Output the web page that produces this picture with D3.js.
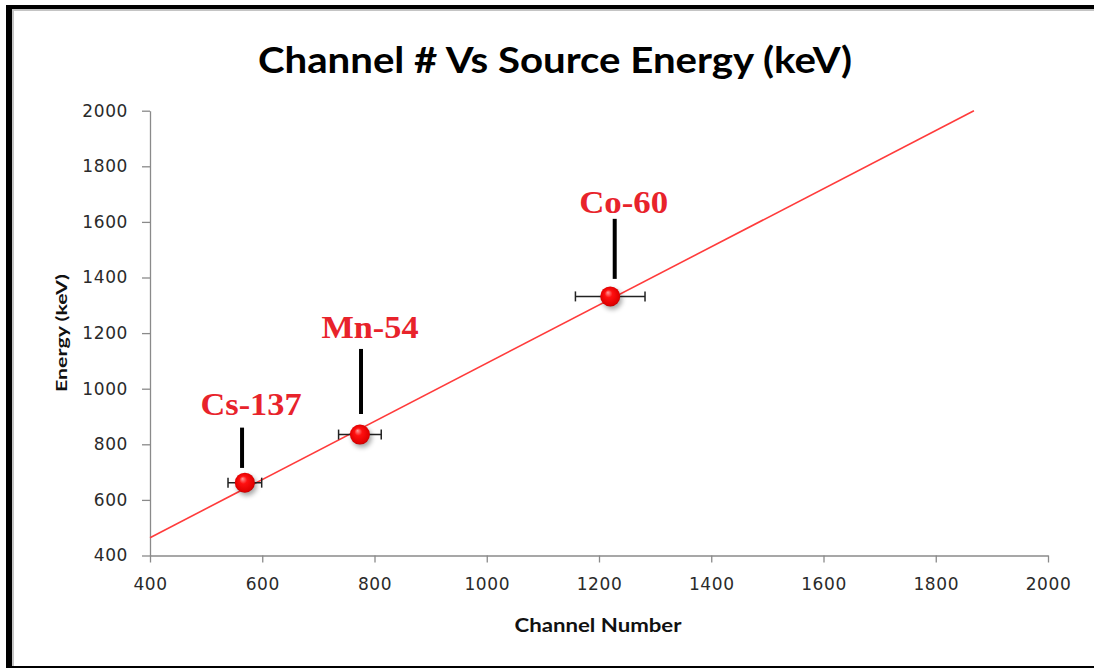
<!DOCTYPE html>
<html>
<head>
<meta charset="utf-8">
<script src="https://cdn.jsdelivr.net/npm/d3@7"></script>
<style>
  body { margin: 0; background: #fff; }
  svg { display: block; }
</style>
</head>
<body>
<svg id="canvas"></svg>
<script>
// sources (channel number vs known gamma energy)
const sources = ["Cs-137", "Mn-54", "Co-60"]
const channels = [569, 774, 1220]
const energies = [662, 835, 1332]
const channelErr = [30, 38, 62]
// label callouts (energy of label baseline, leader top, leader bottom)
const labelEnergy = [906, 1184, 1632]
const leaderTop = [860, 1143, 1611]
const leaderBottom = [715, 909, 1395]
const leaderChannel = [564, 776, 1228]
// linear trendline endpoints
const trendChannel = [400, 1868]
const trendEnergy = [464, 2000]
// axis ticks
const xTicks = [400, 600, 800, 1000, 1200, 1400, 1600, 1800, 2000]
const yTicks = [400, 600, 800, 1000, 1200, 1400, 1600, 1800, 2000]

const W = 1094, H = 668
const plot = {left: 150, right: 1048, top: 110.7, bottom: 555.5}

const svg = d3.select("#canvas").attr("width", W).attr("height", H)

// frame
svg.append("rect").attr("width", W).attr("height", H).attr("fill", "#fff")
svg.append("rect").attr("x", 6).attr("y", 5).attr("width", W - 6).attr("height", 4).attr("fill", "#000")
svg.append("rect").attr("x", 12).attr("y", 9).attr("width", W - 12).attr("height", 2).attr("fill", "#c4c4c4")
svg.append("rect").attr("x", 6).attr("y", 5).attr("width", 6).attr("height", H - 5).attr("fill", "#000")
svg.append("rect").attr("x", 12).attr("y", 9).attr("width", 2).attr("height", H - 9).attr("fill", "#c4c4c4")
svg.append("rect").attr("x", 6).attr("y", 666).attr("width", W - 6).attr("height", 2).attr("fill", "#000")

const defs = svg.append("defs")
const grad = defs.append("radialGradient").attr("id", "ball")
    .attr("cx", "50%").attr("cy", "50%").attr("r", "55%")
    .attr("fx", "38%").attr("fy", "30%")
grad.append("stop").attr("offset", "0%").attr("stop-color", "#ff9a9a")
grad.append("stop").attr("offset", "35%").attr("stop-color", "#ff1010")
grad.append("stop").attr("offset", "85%").attr("stop-color", "#e00000")
grad.append("stop").attr("offset", "100%").attr("stop-color", "#a00000")
const shadow = defs.append("filter").attr("id", "shadow")
    .attr("x", "-50%").attr("y", "-50%").attr("width", "200%").attr("height", "200%")
shadow.append("feGaussianBlur").attr("stdDeviation", 2.5)

const x = d3.scaleLinear().domain([400, 2000]).range([plot.left, plot.right])
const y = d3.scaleLinear().domain([400, 2000]).range([plot.bottom, plot.top])

// title
svg.append("text")
    .attr("x", 555).attr("y", 73)
    .attr("text-anchor", "middle")
    .attr("font-family", "Lato, sans-serif").attr("font-weight", "bold")
    .attr("font-size", 37)
    .attr("textLength", 594).attr("lengthAdjust", "spacingAndGlyphs")
    .attr("fill", "#000")
    .text("Channel # Vs Source Energy (keV)")

// axes
const axisColor = "#8a8a8a"
const xAxis = svg.append("g")
    .attr("transform", `translate(0,${plot.bottom})`)
    .call(d3.axisBottom(x).tickValues(xTicks).tickFormat(d3.format("d")).tickSize(7).tickSizeOuter(0).tickPadding(15))
const yAxis = svg.append("g")
    .attr("transform", `translate(${plot.left},0)`)
    .call(d3.axisLeft(y).tickValues(yTicks).tickFormat(d3.format("d")).tickSize(8).tickSizeOuter(0).tickPadding(14))
;[xAxis, yAxis].forEach(g => {
    g.select(".domain").attr("stroke", axisColor).attr("stroke-width", 1.3)
    g.selectAll(".tick line").attr("stroke", axisColor).attr("stroke-width", 1.3)
    g.selectAll(".tick text")
        .attr("font-family", "'DejaVu Sans', sans-serif")
        .attr("font-size", 17)
        .attr("letter-spacing", 0.6)
        .attr("fill", "#2a2a2a")
})

// axis titles
svg.append("text")
    .attr("x", 598).attr("y", 632)
    .attr("text-anchor", "middle")
    .attr("font-family", "Lato, sans-serif").attr("font-weight", "bold")
    .attr("font-size", 18)
    .attr("textLength", 167).attr("lengthAdjust", "spacingAndGlyphs")
    .attr("fill", "#111")
    .text("Channel Number")
svg.append("text")
    .attr("transform", "translate(67,333) rotate(-90)")
    .attr("text-anchor", "middle")
    .attr("font-family", "Lato, sans-serif").attr("font-weight", "bold")
    .attr("font-size", 15)
    .attr("textLength", 118).attr("lengthAdjust", "spacingAndGlyphs")
    .attr("fill", "#111")
    .text("Energy (keV)")

// trendline
svg.append("line")
    .attr("x1", x(trendChannel[0])).attr("y1", y(trendEnergy[0]))
    .attr("x2", x(trendChannel[1])).attr("y2", y(trendEnergy[1]))
    .attr("stroke", "#ff3b3b").attr("stroke-width", 1.6)

const data = sources.map((s, i) => ({
    name: s, ch: channels[i], e: energies[i], err: channelErr[i],
    lab: labelEnergy[i], top: leaderTop[i], bot: leaderBottom[i], lch: leaderChannel[i]
}))

// error bars
const eb = svg.selectAll(".err").data(data).enter().append("g").attr("class", "err")
    .attr("stroke", "#222").attr("stroke-width", 1.5)
eb.append("line")
    .attr("x1", d => x(d.ch - d.err)).attr("x2", d => x(d.ch + d.err))
    .attr("y1", d => y(d.e)).attr("y2", d => y(d.e))
eb.append("line")
    .attr("x1", d => x(d.ch - d.err)).attr("x2", d => x(d.ch - d.err))
    .attr("y1", d => y(d.e) - 5).attr("y2", d => y(d.e) + 5)
eb.append("line")
    .attr("x1", d => x(d.ch + d.err)).attr("x2", d => x(d.ch + d.err))
    .attr("y1", d => y(d.e) - 5).attr("y2", d => y(d.e) + 5)

// markers with soft shadow
svg.selectAll(".shadow").data(data).enter().append("circle")
    .attr("cx", d => x(d.ch) + 2).attr("cy", d => y(d.e) + 3)
    .attr("r", 10).attr("fill", "#000").attr("opacity", 0.35)
    .attr("filter", "url(#shadow)")
svg.selectAll(".pt").data(data).enter().append("circle")
    .attr("class", "pt")
    .attr("cx", d => x(d.ch)).attr("cy", d => y(d.e))
    .attr("r", 10).attr("fill", "url(#ball)")

// leader lines
svg.selectAll(".leader").data(data).enter().append("line")
    .attr("x1", d => x(d.lch)).attr("x2", d => x(d.lch))
    .attr("y1", d => y(d.top)).attr("y2", d => y(d.bot))
    .attr("stroke", "#000").attr("stroke-width", 4)

// source labels
const labelWidth = [101, 97, 89]
svg.selectAll(".lbl").data(data).enter().append("text")
    .attr("x", d => x(d.lch) + 9).attr("y", d => y(d.lab))
    .attr("text-anchor", "middle")
    .attr("font-family", "'Liberation Serif', serif").attr("font-weight", "bold")
    .attr("font-size", 32)
    .attr("textLength", (d, i) => labelWidth[i]).attr("lengthAdjust", "spacingAndGlyphs")
    .attr("fill", "#e8232b")
    .text(d => d.name)
</script>
</body>
</html>
